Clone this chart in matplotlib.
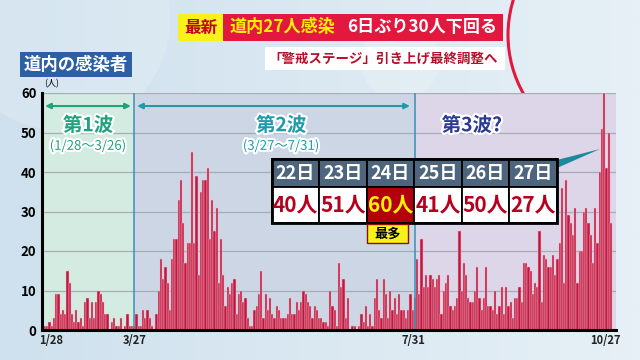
import numpy as np
import matplotlib.pyplot as plt
import matplotlib.patheffects as pe
from matplotlib.patches import Rectangle, Polygon, Circle, Arc
from matplotlib.colors import LinearSegmentedColormap
from matplotlib.transforms import ScaledTranslation

plt.rcParams['font.family'] = ['Noto Sans CJK JP', 'DejaVu Sans']

# daily new cases (people)
wave1 = [1, 1, 2, 1, 3, 9, 9, 4, 5, 4, 15, 12, 4, 2, 5, 2, 3, 1, 7, 8,
         3, 7, 3, 7, 10, 9, 7, 4, 4, 0, 2, 3, 1, 1, 3, 0, 1, 4, 1, 1]
wave2 = [1, 4, 1, 1,
         5, 3, 5, 3, 1, 0, 4, 10, 18, 13, 16, 12, 5, 18, 23, 23, 33, 38, 27, 17,
         22, 22, 45, 22, 39, 14, 35, 38, 38, 41, 23, 33, 25, 31, 12, 23, 14, 6, 11, 9,
         12, 13, 4,
         9, 10, 7, 8, 3, 1, 1, 5, 6, 9, 15, 3, 9, 5, 8, 4, 3, 6, 5, 3,
         3, 3, 4, 8, 4, 4, 7, 5, 7, 10, 9, 7, 6, 3, 6, 5, 3, 3, 2, 2, 1,
         10, 6, 5, 1, 17, 11, 13, 3, 8, 0, 1, 1, 0, 1, 4, 2, 6, 1, 4, 1,
         8, 13, 5, 3, 13, 9, 3, 10, 5, 8, 4, 9, 5, 5, 3, 5, 9, 5, 8]
wave3 = [18, 9, 23, 11,
         14, 11, 14, 13, 11, 13, 14, 4, 10, 12, 14, 6, 5, 6, 8, 25, 10, 17, 14, 8,
         7, 7, 10, 16, 8, 5, 8, 16, 6, 6, 5, 10, 4, 6, 11, 4, 11, 6, 7, 3,
         8, 8, 11, 7, 17,
         17, 16, 15, 9, 12, 11, 25, 7, 19, 18, 16, 16, 19, 14, 18, 22, 36, 12, 38, 29,
         27, 24, 31, 12, 20, 20, 30, 31, 27, 24, 17, 31, 22, 40, 51, 60, 41, 50, 27]
counts = wave1 + wave2 + wave3

tick_labels = ['1/28', '3/27', '7/31', '10/27']
tick_pos = [0, len(wave1), len(wave1) + len(wave2) - 1, len(counts) - 1]

wave_names = ['第1波', '第2波', '第3波?']
wave_ranges = ['(1/28〜3/26)', '(3/27〜7/31)', '']

table_days = ['22日', '23日', '24日', '25日', '26日', '27日']
table_vals = counts[-6:]

W, H = 640, 360
fig = plt.figure(figsize=(6.4, 3.6), dpi=100)

# background (pixel coordinates)
bg = fig.add_axes([0, 0, 1, 1], zorder=-10)
cmap = LinearSegmentedColormap.from_list('bg', ['#cfe1ee', '#e6f0f6'])
bg.imshow(np.tile(np.linspace(0, 1, 256), (10, 1)), cmap=cmap, aspect='auto',
          extent=[0, W, H, 0])
bg.add_patch(Circle((60, 20), 110, color='white', alpha=0.15, lw=0))
bg.add_patch(Circle((400, 60), 40, color='white', alpha=0.15, lw=0))
bg.add_patch(Arc((627, 35), 238, 238, theta1=150, theta2=270, color='#e3183f', lw=2.2))
bg.set_xlim(0, W)
bg.set_ylim(H, 0)
bg.axis('off')


def rect(x0, y0, x1, y1, color, **kw):
    fig.add_artist(Rectangle((x0 / W, 1 - y1 / H), (x1 - x0) / W, (y1 - y0) / H,
                             transform=fig.transFigure, facecolor=color, **kw))


def ftext(x, y, s, **kw):
    fig.text(x / W, 1 - y / H, s, **kw)


# main chart
ax = fig.add_axes([42 / W, 30 / H, (616 - 42) / W, (330 - 93) / H])
ax.set_xlim(-1.4, 256.3)
ax.set_ylim(0, 60)
ax.axvspan(-1.4, tick_pos[1], color='#d3ebe0', zorder=0, lw=0)
ax.axvspan(tick_pos[1], tick_pos[2], color='#cdd6e4', zorder=0, lw=0)
ax.axvspan(tick_pos[2], 256.3, color='#ddd5e8', zorder=0, lw=0)
ax.set_axisbelow(True)
ax.yaxis.grid(True, color='#a5adb6', lw=0.9)
ax.bar(range(len(counts)), counts, width=1.0, color='#c1173f', edgecolor='#f2bccb',
       lw=0.35, zorder=2)
for p in tick_pos[1:3]:
    ax.axvline(p, color='#3a8fb5', lw=1.1, zorder=3)

for side in ['top', 'right']:
    ax.spines[side].set_visible(False)
for side in ['left', 'bottom']:
    ax.spines[side].set_linewidth(2.2)
    ax.spines[side].set_zorder(4)
ax.set_yticks(range(0, 61, 10))
ax.tick_params(length=0)
ax.tick_params(axis='y', pad=4)
ax.tick_params(axis='x', pad=3)
for lab in ax.get_yticklabels():
    lab.set_fontsize(9.5)
    lab.set_fontweight('bold')
ax.set_xticks(tick_pos, tick_labels, fontsize=8, fontweight='bold', color='#222222')
shifts = [6, 0, -1, -6]
for lab, s in zip(ax.get_xticklabels(), shifts):
    lab.set_transform(lab.get_transform() + ScaledTranslation(s / 100, 0, fig.dpi_scale_trans))
ftext(44, 84, '(人)', fontsize=6.5, ha='left', va='center')

# wave arrows and labels
halo = [pe.withStroke(linewidth=3, foreground='white')]
wave_colors = ['#1fa37b', '#1f9aaa', '#2b3b92']
ax.annotate('', xy=(0, 56.7), xytext=(tick_pos[1] - 1.5, 56.7),
            arrowprops=dict(arrowstyle='<|-|>', color=wave_colors[0], lw=1.5,
                            mutation_scale=8, shrinkA=0, shrinkB=0), zorder=5)
ax.annotate('', xy=(tick_pos[1] + 1.3, 56.7), xytext=(tick_pos[2] - 2.2, 56.7),
            arrowprops=dict(arrowstyle='<|-|>', color=wave_colors[1], lw=1.5,
                            mutation_scale=8, shrinkA=0, shrinkB=0), zorder=5)
label_x = [19.3, 106, 191.6]
for name, rng, c, x in zip(wave_names, wave_ranges, wave_colors, label_x):
    ax.text(x, 51.7, name, color=c, fontsize=14, fontweight='bold', ha='center',
            va='center', path_effects=halo, zorder=6)
    if rng:
        ax.text(x, 46.5, rng, color=c, fontsize=9.5, ha='center', va='center',
                path_effects=halo, zorder=6)

# table of the last six days
x0, cw = 271.7, 47.5
y_top, y_mid, y_bot = 159.3, 187.3, 222.7
ihi = int(np.argmax(table_vals))
fig.add_artist(Polygon([(557 / W, 1 - 160 / H), (557 / W, 1 - 168 / H), (600 / W, 1 - 149 / H)],
                       closed=True, transform=fig.transFigure, facecolor='#1a8a9a', lw=0))
for i, (d, v) in enumerate(zip(table_days, table_vals)):
    xa = x0 + i * cw
    rect(xa, y_top, xa + cw, y_mid, '#4d657d', edgecolor='black', lw=1.3)
    hi = i == ihi
    rect(xa, y_mid, xa + cw, y_bot, '#b3000f' if hi else 'white', edgecolor='black', lw=1.3)
    ftext(xa + cw / 2, (y_top + y_mid) / 2, d, color='white', fontsize=13,
          fontweight='bold', ha='center', va='center')
    ftext(xa + cw / 2, (y_mid + y_bot) / 2, f'{v}人', color='#fff200' if hi else '#b5001e',
          fontsize=15, fontweight='bold', ha='center', va='center')
rect(x0, y_top, x0 + 6 * cw, y_bot, 'none', edgecolor='black', lw=2)
rect(367, 224, 408, 243, '#f7f21c', edgecolor='#8a1010', lw=1)
ftext(387.5, 233.5, '最多', fontsize=9.5, fontweight='bold', ha='center', va='center')

# headline boxes
rect(178, 14, 223, 41, '#f8f21a')
rect(223, 14, 503, 41, '#e3183f')
ftext(200.5, 27.5, '最新', color='#c4001a', fontsize=12, fontweight='bold', ha='center', va='center')
ftext(230, 27.5, '道内27人感染', color='#fff000', fontsize=12.3, fontweight='bold', ha='left', va='center')
ftext(497, 27.5, '6日ぶり30人下回る', color='white', fontsize=12.3, fontweight='bold', ha='right', va='center')
rect(265, 47, 505, 70, 'white')
ftext(498, 58.5, '「警戒ステージ」引き上げ最終調整へ', color='#b5102b', fontsize=9.7,
      fontweight='bold', ha='right', va='center')
rect(20, 52, 132, 77, '#2d5fa5')
ftext(76, 64.5, '道内の感染者', color='white', fontsize=12.5, fontweight='bold', ha='center', va='center')

fig.savefig('out.png', dpi=100)
